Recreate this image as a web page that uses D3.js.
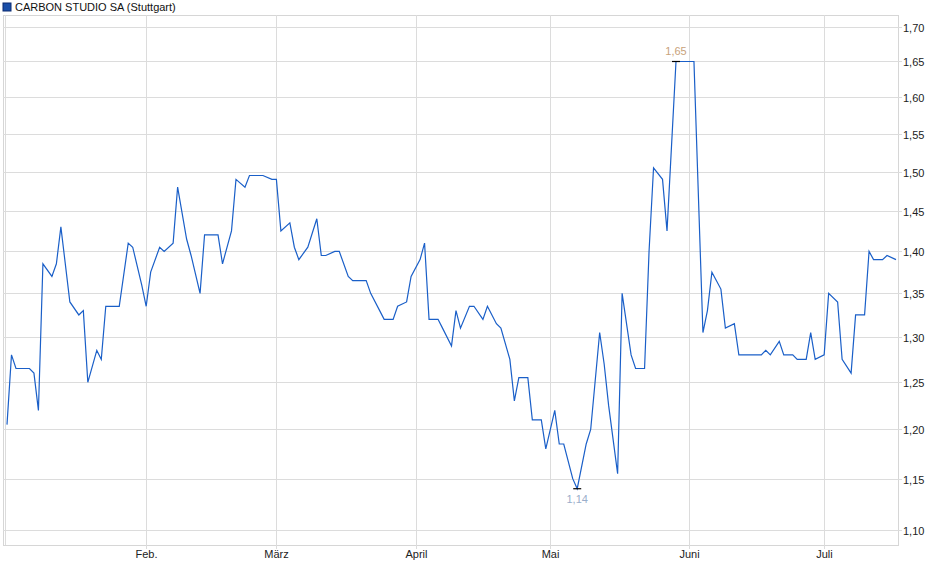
<!DOCTYPE html>
<html>
<head>
<meta charset="utf-8">
<script src="https://cdn.jsdelivr.net/npm/d3@7.9.0/dist/d3.min.js"></script>
<style>
  body { margin: 0; background: #fff; }
  text { font-family: "Liberation Sans", Arial, sans-serif; }
</style>
</head>
<body>
<svg id="chart" width="940" height="579"></svg>
<script>
// day offsets from 1 Jan 2024 and closing prices
const days = [0,1,2,5,6,7,8,10,11,12,14,16,17,18,20,21,22,25,27,28,30,31,32,34,35,37,38,40,41,43,44,47,48,50,51,53,54,57,59,60,61,63,64,65,67,69,70,71,73,74,76,77,80,81,83,84,86,87,89,90,92,93,94,96,97,99,100,101,103,104,106,107,109,110,112,113,114,116,117,119,120,122,123,124,126,127,129,130,132,133,134,136,137,139,140,142,143,144,146,147,149,153,155,156,157,159,160,162,163,168,169,170,172,173,175,176,178,179,180,182,183,185,186,188,189,191,192,193,195,196,198];
const prices = [1.205,1.28,1.265,1.265,1.26,1.22,1.385,1.37,1.385,1.43,1.34,1.325,1.33,1.25,1.285,1.275,1.335,1.335,1.41,1.405,1.36,1.335,1.375,1.405,1.40,1.41,1.48,1.415,1.395,1.35,1.42,1.42,1.385,1.425,1.49,1.48,1.495,1.495,1.49,1.49,1.425,1.435,1.405,1.39,1.405,1.44,1.395,1.395,1.40,1.40,1.37,1.365,1.365,1.35,1.33,1.32,1.32,1.335,1.34,1.37,1.39,1.41,1.32,1.32,1.31,1.29,1.33,1.31,1.335,1.335,1.32,1.335,1.315,1.31,1.275,1.23,1.255,1.255,1.21,1.21,1.18,1.22,1.185,1.185,1.15,1.14,1.185,1.20,1.305,1.27,1.225,1.155,1.35,1.28,1.265,1.265,1.40,1.505,1.49,1.425,1.65,1.65,1.305,1.33,1.375,1.355,1.31,1.315,1.28,1.28,1.285,1.28,1.295,1.28,1.28,1.275,1.275,1.305,1.275,1.28,1.35,1.34,1.275,1.26,1.325,1.325,1.40,1.39,1.39,1.395,1.39];
const yTicks = [1.10,1.15,1.20,1.25,1.30,1.35,1.40,1.45,1.50,1.55,1.60,1.65,1.70];
const monthLabels = ['Feb.', 'März', 'April', 'Mai', 'Juni', 'Juli'];
const title = 'CARBON STUDIO SA (Stuttgart)';

const start = new Date(2024, 0, 1);
const data = days.map((d, i) => ({ date: d3.timeDay.offset(start, d), value: prices[i] }));

const svg = d3.select('#chart');
const pLeft = 3, pRight = 898, pTop = 15, pBottom = 545;

const x = d3.scaleTime()
  .domain([start, d3.timeDay.offset(start, 198)])
  .range([7, 896]);
const y = d3.scaleLog().domain([1.10, 1.70]).range([530, 27]);

// frame
svg.append('rect').attr('x', pLeft + 0.5).attr('y', pTop + 0.5)
  .attr('width', pRight - pLeft).attr('height', pBottom - pTop)
  .attr('fill', 'none').attr('stroke', '#d6d6d6');

// horizontal grid + labels
yTicks.forEach(t => {
  const yy = Math.round(y(t)) + 0.5;
  svg.append('line').attr('x1', pLeft).attr('x2', pRight + 4).attr('y1', yy).attr('y2', yy)
    .attr('stroke', '#dcdcdc');
  svg.append('text').attr('x', 903).attr('y', yy + 4)
    .attr('font-size', 11).attr('fill', '#222')
    .text(d3.format('.2f')(t).replace('.', ','));
});

// month grid + labels
const months = d3.range(1, 7).map(m => new Date(2024, m, 1));
months.forEach((m, i) => {
  const xx = Math.round(x(m)) + 0.5;
  svg.append('line').attr('x1', xx).attr('x2', xx).attr('y1', pTop).attr('y2', pBottom + 4)
    .attr('stroke', '#dcdcdc');
  svg.append('text').attr('x', xx).attr('y', 558).attr('text-anchor', 'middle')
    .attr('font-size', 11).attr('fill', '#222').text(monthLabels[i]);
});
svg.append('line').attr('x1', 5.5).attr('x2', 5.5).attr('y1', pTop).attr('y2', pBottom)
  .attr('stroke', '#dcdcdc');

// price line
svg.append('path').datum(data)
  .attr('fill', 'none').attr('stroke', '#1a5fc8').attr('stroke-width', 1.2)
  .attr('d', d3.line().x(d => x(d.date)).y(d => y(d.value)));

// min / max markers
const maxP = data.reduce((a, b) => b.value > a.value ? b : a);
const minP = data.reduce((a, b) => b.value < a.value ? b : a);
[[maxP, -6, '#c8a27a'], [minP, 14, '#9aaecb']].forEach(([p, dy, col]) => {
  const px = x(p.date), py = y(p.value);
  svg.append('line').attr('x1', px - 4).attr('x2', px + 4).attr('y1', py).attr('y2', py)
    .attr('stroke', '#000').attr('stroke-width', 1.2);
  svg.append('text').attr('x', px).attr('y', py + dy).attr('text-anchor', 'middle')
    .attr('font-size', 11).attr('fill', col)
    .text(d3.format('.2f')(p.value).replace('.', ','));
});

// title
svg.append('rect').attr('x', 3).attr('y', 3).attr('width', 8).attr('height', 8)
  .attr('fill', '#1a4fa8').attr('stroke', '#0a2a70');
svg.append('text').attr('x', 15).attr('y', 11).attr('font-size', 11).attr('fill', '#111')
  .text(title);
</script>
</body>
</html>
